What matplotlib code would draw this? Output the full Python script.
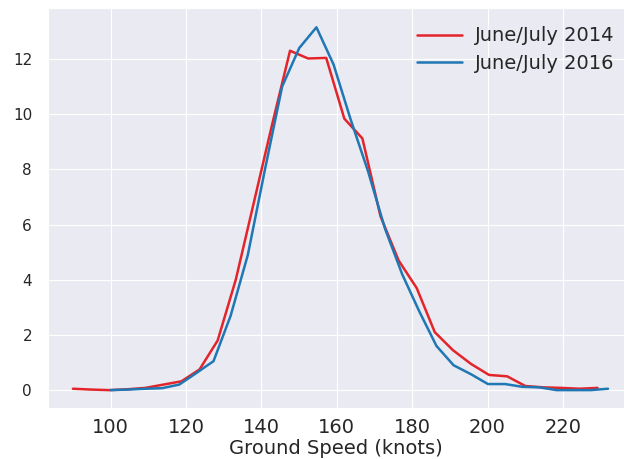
import numpy as np
import matplotlib
matplotlib.use("Agg")
import matplotlib.pyplot as plt
import seaborn as sns

# Ground speed distribution (percent of flights per speed bin)
speed_2014 = [90.0, 94.8, 99.6, 104.4, 109.2, 114.0, 118.8, 123.6, 128.4, 133.2,
              138.0, 142.8, 147.6, 152.4, 157.2, 162.0, 166.8, 171.6, 176.4, 181.2,
              186.0, 190.8, 195.6, 200.4, 205.2, 210.0, 214.8, 219.6, 224.4, 229.2]
pct_2014 = [0.05, 0.02, 0.0, 0.03, 0.08, 0.2, 0.32, 0.75, 1.8, 4.0,
            6.8, 9.6, 12.3, 12.02, 12.04, 9.84, 9.12, 6.3, 4.7, 3.7,
            2.1, 1.45, 0.95, 0.55, 0.5, 0.15, 0.1, 0.08, 0.05, 0.08]

speed_2016 = [100.0, 104.55, 109.1, 113.65, 118.2, 122.75, 127.3, 131.85, 136.4, 140.95,
              145.5, 150.05, 154.6, 159.15, 163.7, 168.25, 172.8, 177.35, 181.9, 186.45,
              191.0, 195.55, 200.1, 204.65, 209.2, 213.75, 218.3, 222.85, 227.4, 231.95]
pct_2016 = [0.0, 0.02, 0.05, 0.07, 0.2, 0.62, 1.05, 2.7, 4.9, 8.0,
            11.0, 12.4, 13.15, 11.8, 9.8, 7.95, 5.85, 4.2, 2.85, 1.6,
            0.9, 0.58, 0.22, 0.22, 0.12, 0.1, 0.0, 0.0, 0.0, 0.05]

labels = ["June/July 2014", "June/July 2016"]
colors = ["#e3242b", "#1f77b4"]

sns.set_style("darkgrid")
plt.rcParams["font.family"] = ["DejaVu Sans"]

fig = plt.figure(figsize=(6.24, 4.59), dpi=100)
ax = fig.add_axes([0.077, 0.111, 0.923, 0.8716])

ax.plot(speed_2014, pct_2014, color=colors[0], lw=1.8, label=labels[0])
ax.plot(speed_2016, pct_2016, color=colors[1], lw=1.8, label=labels[1])

ax.set_xlim(83.4, 236.2)
ax.set_ylim(-0.65, 13.85)
ax.set_xticks([100, 120, 140, 160, 180, 200, 220])
ax.set_yticks([0, 2, 4, 6, 8, 10, 12])
ax.tick_params(axis="x", labelsize=14, pad=4)
ax.tick_params(axis="y", labelsize=11, pad=8)
ax.set_xlabel("Ground Speed (knots)", fontsize=14, labelpad=1)

ax.legend(loc="upper right", fontsize=14, frameon=False,
          handlelength=2.3, handletextpad=0.7, labelspacing=0.45,
          borderaxespad=0.55, bbox_to_anchor=(1.016, 1.0))

fig.savefig("out.png", dpi=100)
